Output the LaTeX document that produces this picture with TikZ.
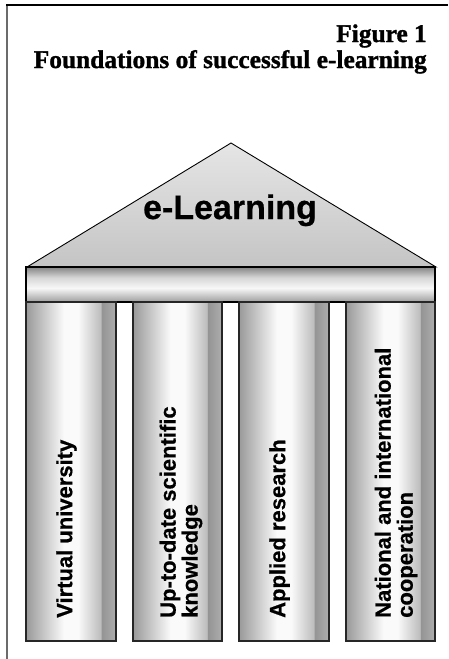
\documentclass[tikz,border=0pt]{standalone}
\usepackage{fontspec}
\setmainfont{Liberation Serif}
\newfontfamily\titleserif{Liberation Serif}[BoldFeatures={FakeBold=1.2}]
\newfontfamily\pillarsans{Liberation Sans}[BoldFeatures={FakeBold=0.6}]
\definecolor{pA}{gray}{0.60}
\definecolor{pB}{gray}{0.98}
\definecolor{pC}{gray}{0.74}
\definecolor{pD}{gray}{0.58}
\definecolor{pE}{gray}{0.68}
\definecolor{bA}{gray}{0.62}
\definecolor{bB}{gray}{0.97}
\definecolor{bC}{gray}{0.84}
\definecolor{bD}{gray}{0.52}
\definecolor{roofTop}{gray}{0.90}
\definecolor{roofBot}{gray}{0.77}
\definecolor{frameGray}{gray}{0.42}
\pgfdeclarehorizontalshading{pillarshade}{100bp}{color(0bp)=(pA); color(25bp)=(pA); color(46bp)=(pB); color(54bp)=(pB); color(66.5bp)=(pC); color(67bp)=(pD); color(75bp)=(pE); color(100bp)=(pE)}
\pgfdeclareverticalshading{barshade}{100bp}{color(0bp)=(bA); color(25bp)=(bA); color(45bp)=(bB); color(60bp)=(bC); color(75bp)=(bD); color(100bp)=(bD)}
\tikzset{
  titletext/.style={anchor=base east, inner sep=0pt, font=\titleserif\bfseries\fontsize{25.4}{28}\selectfont},
  roof/.style={draw=black, line width=0.9pt, top color=roofTop, bottom color=roofBot, line join=miter},
  beam/.style={draw=black, line width=1.2pt, shading=barshade},
  pillar/.style={draw=black!85, line width=1.2pt, shading=pillarshade},
  ptext/.style={rotate=90, anchor=west, inner sep=0pt, align=left,
    font=\pillarsans\bfseries\fontsize{22}{22}\selectfont},
  bigtext/.style={anchor=base, inner sep=0pt, font=\pillarsans\bfseries\fontsize{34}{36}\selectfont}
}
\begin{document}
\begin{tikzpicture}[x=1pt,y=-1pt]
\useasboundingbox (0,0) rectangle (448,659);
% frame
\coordinate (ftl) at (7,5);
\coordinate (fbl) at (7,659);
\coordinate (ftr) at (448,5);
\draw[line width=2pt, frameGray] (ftl) -- (fbl);
\draw[line width=1.5pt, black] ([xshift=-1pt]ftl) -- (ftr);
% titles
\node[titletext] (fig) at (427,42) {Figure 1};
\node[titletext] (title) at (427,68) {Foundations of successful e-learning};
% roof
\coordinate (rl) at (27,267);
\coordinate (ra) at (231,143);
\coordinate (rr) at (436,267);
\draw[roof] (rl) -- (ra) -- (rr) -- cycle;
\node[bigtext] (elearn) at (230,219) {e-Learning};
% beam
\draw[beam] (26,267) rectangle (435,302);
% pillars
\draw[pillar] (26,302) rectangle (116,641);
\draw[pillar] (133,302) rectangle (222,641);
\draw[pillar] (239,302) rectangle (329,641);
\draw[pillar] (346,302) rectangle (435,641);
% pillar labels
\node[ptext] (p1) at (66.5,618) {Virtual university};
\node[ptext] (p2) at (181,618) {Up-to-date scientific\\knowledge};
\node[ptext] (p3) at (279.5,618) {Applied research};
\node[ptext] (p4) at (396,618) {National and international\\cooperation};
\end{tikzpicture}
\end{document}
